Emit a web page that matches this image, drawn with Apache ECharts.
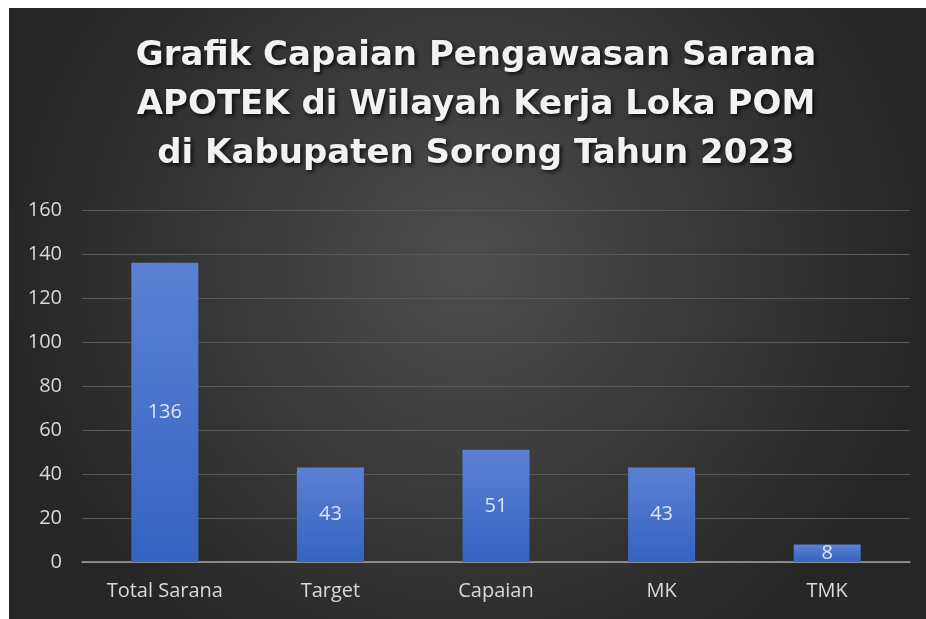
<!DOCTYPE html>
<html>
<head>
<meta charset="utf-8">
<script src="https://cdn.jsdelivr.net/npm/echarts@6/dist/echarts.min.js"></script>
<style>html,body{margin:0;padding:0;background:#fff}#c{width:926px;height:619px}</style>
</head>
<body>
<div id="c"></div>
<script>
var titleLines = ["Grafik Capaian Pengawasan Sarana", "APOTEK di Wilayah Kerja Loka POM", "di Kabupaten Sorong Tahun 2023"];
var categories = ["Total Sarana", "Target", "Capaian", "MK", "TMK"];
var values = [136, 43, 51, 43, 8];
var yTicks = [0, 20, 40, 60, 80, 100, 120, 140, 160];

var chart = echarts.init(document.getElementById('c'), null, {renderer: 'canvas'});
var option = {
  backgroundColor: '#ffffff',
  animation: false,
  graphic: [{
    type: 'rect', z: -10, silent: true,
    shape: {x: 9, y: 8, width: 917, height: 611},
    style: {
      fill: new echarts.graphic.RadialGradient(0.5, 0.42, 0.75, [
        {offset: 0, color: '#4d4d4d'},
        {offset: 1, color: '#262626'}
      ])
    }
  }],
  title: {
    text: titleLines.join('\n'),
    left: 471,
    textAlign: 'center',
    top: 27,
    textStyle: {
      color: '#f2f2f2',
      fontFamily: 'DejaVu Sans',
      fontWeight: 'bold',
      fontSize: 34,
      lineHeight: 49,
      textShadowColor: 'rgba(0,0,0,0.8)',
      textShadowBlur: 4,
      textShadowOffsetX: 2,
      textShadowOffsetY: 2
    }
  },
  grid: {left: 82, right: 16, top: 210, bottom: 57, containLabel: false},
  xAxis: {
    type: 'category',
    data: categories,
    axisLine: {lineStyle: {color: '#a0a0a0', width: 1.5}},
    axisTick: {show: false},
    axisLabel: {color: '#d9d9d9', fontSize: 20, fontFamily: 'Open Sans', margin: 19}
  },
  yAxis: {
    type: 'value',
    min: yTicks[0],
    max: yTicks[yTicks.length - 1],
    interval: yTicks[1] - yTicks[0],
    axisLine: {show: false},
    axisTick: {show: false},
    axisLabel: {color: '#d9d9d9', fontSize: 20, fontFamily: 'Open Sans', margin: 20},
    splitLine: {lineStyle: {color: '#595959', width: 1}}
  },
  series: [{
    type: 'bar',
    data: values,
    barWidth: '40.5%',
    itemStyle: {
      color: new echarts.graphic.LinearGradient(0, 0, 0, 1, [
        {offset: 0, color: '#5b81d4'},
        {offset: 1, color: '#3463c2'}
      ])
    },
    label: {
      show: true,
      position: 'inside',
      color: '#dde6f6',
      fontSize: 20,
      fontFamily: 'Open Sans'
    }
  }]
};
chart.setOption(option);
</script>
</body>
</html>
